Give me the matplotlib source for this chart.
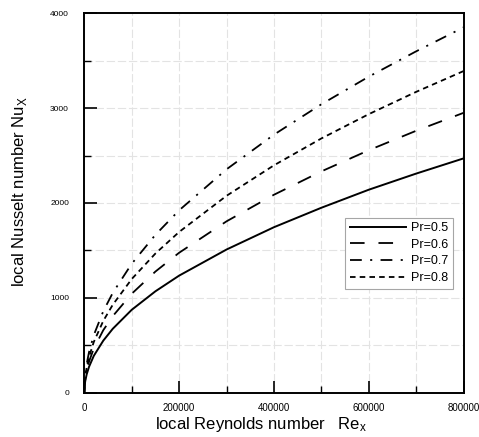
import numpy as np
import matplotlib.pyplot as plt
from matplotlib.ticker import MultipleLocator

plt.rcParams['font.family'] = ['Liberation Sans', 'DejaVu Sans']
plt.rcParams['mathtext.fontset'] = 'custom'
plt.rcParams['mathtext.rm'] = 'Liberation Sans'
plt.rcParams['lines.scale_dashes'] = False

# local Reynolds number
re_x = [0, 1000, 2000, 5000, 10000, 20000, 40000, 60000, 100000, 150000,
        200000, 300000, 400000, 500000, 600000, 700000, 800000]

# local Nusselt number for each Prandtl number
nu_05 = [0, 87, 125, 195, 275, 390, 550, 675, 875, 1070,
         1235, 1510, 1745, 1950, 2140, 2310, 2470]
nu_06 = [0, 104, 148, 233, 330, 467, 660, 808, 1044, 1278,
         1476, 1807, 2087, 2333, 2556, 2761, 2950]
nu_07 = [0, 136, 192, 304, 430, 608, 860, 1053, 1360, 1665,
         1923, 2355, 2720, 3040, 3331, 3598, 3850]
nu_08 = [0, 120, 170, 268, 379, 536, 758, 928, 1199, 1468,
         1695, 2076, 2397, 2680, 2936, 3171, 3390]

labels = ['Pr=0.5', 'Pr=0.6', 'Pr=0.7', 'Pr=0.8']

fig = plt.figure(figsize=(4.79, 4.37), dpi=100)
ax = fig.add_axes([0.176, 0.101, 0.792, 0.869])

ax.plot(re_x, nu_05, color='black', lw=1.4, label=labels[0])
ax.plot(re_x, nu_06, color='black', lw=1.3, dashes=(10.5, 10), label=labels[1])
ax.plot(re_x, nu_07, color='black', lw=1.3, dashes=(8.5, 6, 1.5, 6), label=labels[2])
ax.plot(re_x, nu_08, color='black', lw=1.3, dashes=(4, 3), label=labels[3])

ax.set_xlim(0, 800000)
ax.set_ylim(0, 4000)
ax.xaxis.set_major_locator(MultipleLocator(200000))
ax.xaxis.set_minor_locator(MultipleLocator(100000))
ax.yaxis.set_major_locator(MultipleLocator(1000))
ax.yaxis.set_minor_locator(MultipleLocator(500))

ax.grid(which='both', color='0.89', lw=0.8, ls=(0, (6, 2)))
ax.set_axisbelow(True)

ax.tick_params(which='major', direction='in', length=9, width=1.2)
ax.tick_params(which='minor', direction='in', length=5, width=1.0)
ax.tick_params(axis='y', pad=11, labelsize=6)
ax.tick_params(axis='x', pad=7, labelsize=7)
for s in ax.spines.values():
    s.set_linewidth(1.4)

ax.set_xlabel(r'local Reynolds number   $\mathregular{Re_x}$', fontsize=12)
ax.set_ylabel(r'local Nusselt number Nu$_{\mathregular{X}}$', fontsize=12)
ax.xaxis.set_label_coords(0.465, -0.058)
ax.yaxis.set_label_coords(-0.146, 0.53)

leg = ax.legend(loc='upper left', bbox_to_anchor=(0.672, 0.478),
                fontsize=9, handlelength=4.5, handletextpad=0.4,
                labelspacing=0.38, borderpad=0.35, fancybox=False,
                framealpha=1, edgecolor='0.65')
leg.get_frame().set_linewidth(0.8)

fig.savefig('out.png', dpi=100)
